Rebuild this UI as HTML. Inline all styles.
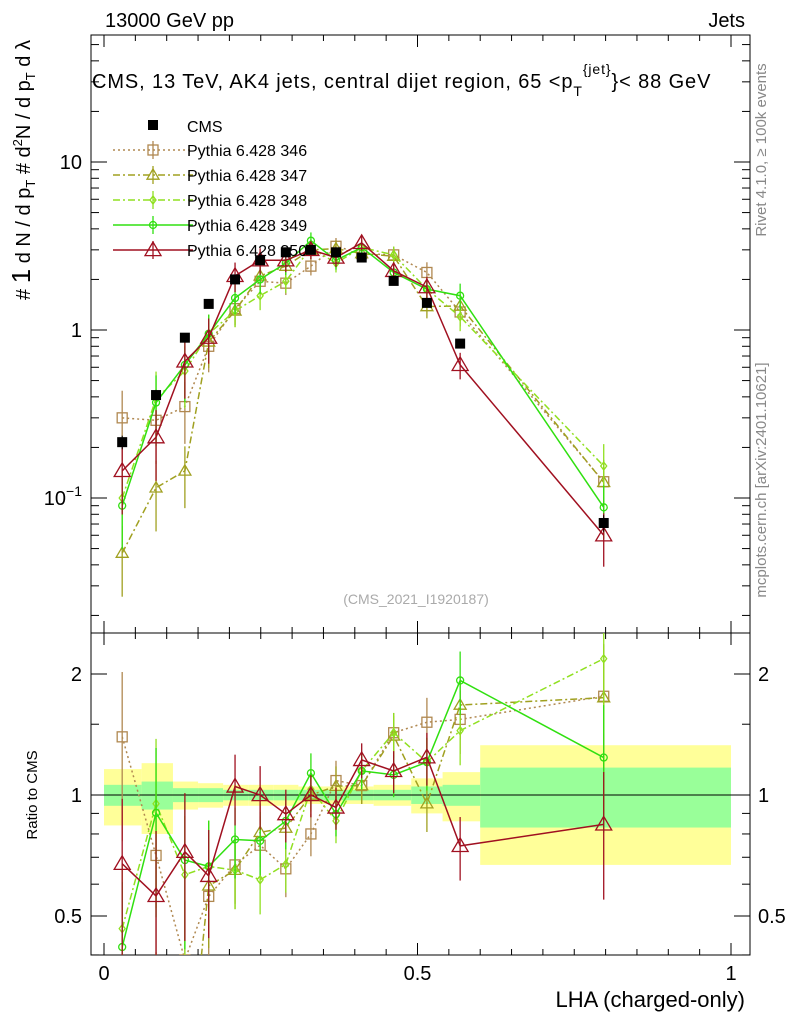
<!DOCTYPE html>
<html><head><meta charset="utf-8"><style>
html,body{margin:0;padding:0;background:#fff;overflow:hidden;width:786px;height:1024px}
svg{display:block}
svg text{font-family:"Liberation Sans",sans-serif}
</style></head><body>
<svg id="c" width="786" height="1024" xmlns="http://www.w3.org/2000/svg"></svg>
<script>
const xs=[0.029,0.083,0.129,0.167,0.209,0.249,0.290,0.330,0.370,0.411,0.462,0.515,0.568,0.797];
const edges=[0,0.06,0.11,0.15,0.19,0.23,0.27,0.31,0.35,0.39,0.43,0.49,0.54,0.6,1.0];
const cms=[0.215,0.41,0.90,1.43,2.0,2.6,2.9,3.0,2.9,2.7,1.96,1.45,0.83,0.071];
const cmsErr=[0.02,0.03,0.04,0.05,0.06,0.08,0.08,0.08,0.08,0.08,0.06,0.06,0.04,0.008];
const p346=[0.30,0.29,0.35,0.80,1.34,1.95,1.9,2.4,3.15,2.85,2.8,2.2,1.28,0.125];
const p347=[0.047,0.115,0.145,0.85,1.3,2.1,2.4,3.0,3.05,2.85,2.75,1.38,1.39,0.124];
const p348=[0.1,0.39,0.57,0.95,1.3,1.6,1.95,3.1,2.5,3.1,2.8,1.75,1.2,0.155];
const p349=[0.09,0.37,0.62,0.95,1.55,2.0,2.5,3.4,2.6,3.1,2.2,1.75,1.6,0.088];
const p350=[0.145,0.23,0.65,0.9,2.1,2.6,2.6,3.0,2.7,3.3,2.25,1.8,0.62,0.06];
const mcRelErr=[0.45,0.45,0.4,0.3,0.2,0.18,0.15,0.12,0.12,0.1,0.12,0.15,0.18,0.35];
const bandYellow=[0.16,0.2,0.08,0.07,0.06,0.06,0.06,0.05,0.05,0.05,0.06,0.1,0.14,0.33];
const bandGreen=[0.06,0.08,0.04,0.04,0.03,0.03,0.03,0.03,0.03,0.03,0.03,0.05,0.06,0.17];

const S=document.getElementById('c');const NS='http://www.w3.org/2000/svg';
function el(t,a,p){const e=document.createElementNS(NS,t);for(const k in a)e.setAttribute(k,a[k]);(p||S).appendChild(e);return e;}
const X=v=>104+627*v;
const Y=v=>330-168*Math.log10(v);
const R=v=>795-121*Math.log2(v);
const L=91,Rt=750,T=35,M=633,B=955;
const defs=el('defs',{});
const c1=el('clipPath',{id:'cm'},defs);el('rect',{x:L,y:T,width:Rt-L,height:M-T},c1);
const c2=el('clipPath',{id:'cr'},defs);el('rect',{x:L,y:M,width:Rt-L,height:B-M},c2);
const gb=el('g',{'clip-path':'url(#cr)'});

for(let i=0;i<xs.length;i++){
 const x0=X(edges[i]),x1=X(edges[i+1]);
 const r=el('rect',{x:x0,y:R(1+bandYellow[i]),width:x1-x0,height:R(1-bandYellow[i])-R(1+bandYellow[i]),fill:'#ffff99'},gb);
 
 const g=el('rect',{x:x0,y:R(1+bandGreen[i]),width:x1-x0,height:R(1-bandGreen[i])-R(1+bandGreen[i]),fill:'#99ff99'},gb);
 
}
el('line',{x1:L,x2:Rt,y1:R(1),y2:R(1),stroke:'#000','stroke-width':1});
el('rect',{x:L,y:T,width:Rt-L,height:M-T,fill:'none',stroke:'#000'});
el('rect',{x:L,y:M,width:Rt-L,height:B-M,fill:'none',stroke:'#000'});
for(let v=0;v<=1.0001;v+=0.05){const big=Math.abs(v*2-Math.round(v*2))<1e-6;const len=big?12:6;
 for(const [yb,yt] of [[M,T],[B,M]]){el('line',{x1:X(v),x2:X(v),y1:yb,y2:yb-len,stroke:'#000'});el('line',{x1:X(v),x2:X(v),y1:yt,y2:yt+len,stroke:'#000'});}}
[['0',0],['0.5',0.5],['1',1]].forEach(([t,v])=>{const e=el('text',{x:X(v),y:980,'font-size':20,'text-anchor':'middle'});e.textContent=t;});
for(let d=-2;d<=1;d++)for(let m=1;m<10;m++){const v=m*Math.pow(10,d);const y=Y(v);if(y<T||y>M)continue;const len=m==1?16:8;
 el('line',{x1:L,x2:L+len,y1:y,y2:y,stroke:'#000'});el('line',{x1:Rt,x2:Rt-len,y1:y,y2:y,stroke:'#000'});}
[['10',10],['1',1]].forEach(([t,v])=>{const e=el('text',{x:82,y:Y(v)+7,'font-size':20,'text-anchor':'end'});e.textContent=t;});
{const e=el('text',{x:82,y:Y(0.1)+7,'font-size':20,'text-anchor':'end'});e.innerHTML='10<tspan dy="-9" font-size="14">−1</tspan>';}
[0.4,0.5,0.6,0.7,0.8,0.9,1,1.5,2].forEach(v=>{const y=R(v);const len=(v==0.5||v==1||v==2)?16:8;
 el('line',{x1:L,x2:L+len,y1:y,y2:y,stroke:'#000'});el('line',{x1:Rt,x2:Rt-len,y1:y,y2:y,stroke:'#000'});});
[['2',2],['1',1],['0.5',0.5]].forEach(([t,v])=>{let e=el('text',{x:82,y:R(v)+7,'font-size':20,'text-anchor':'end'});e.textContent=t;
 e=el('text',{x:758,y:R(v)+7,'font-size':20});e.textContent=t;});
function txt(s,a,name){const e=el('text',a);e.innerHTML=s;return e;}
txt('13000 GeV pp',{x:105,y:27,'font-size':20},'energy-label');
txt('Jets',{x:745,y:27,'font-size':20,'text-anchor':'end'},'process-label');
txt('CMS, 13 TeV, AK4 jets, central dijet region, 65 &lt;p<tspan dy="8" font-size="14">T</tspan><tspan dy="-22" font-size="14">{jet}</tspan><tspan dy="14">}&lt; 88 GeV</tspan>',{x:92,y:88,'font-size':20,'letter-spacing':'0.9'},'plot-title');
txt('(CMS_2021_I1920187)',{x:416,y:604,'font-size':14,fill:'#aaa','text-anchor':'middle'},'analysis-id');
txt('LHA (charged-only)',{x:745,y:1007,'font-size':22,'text-anchor':'end'},'x-axis-title');
txt('Ratio to CMS',{x:0,y:0,'font-size':15,'text-anchor':'middle',transform:'translate(37,795) rotate(-90)'},'ratio-y-axis-title');
txt('Rivet 4.1.0, ≥ 100k events',{x:0,y:0,'font-size':15,fill:'#888','text-anchor':'middle',transform:'translate(766,150) rotate(-90)'},'rivet-label');
txt('mcplots.cern.ch [arXiv:2401.10621]',{x:0,y:0,'font-size':15,fill:'#888','text-anchor':'middle',transform:'translate(766,480) rotate(-90)'},'mcplots-label');
txt('# <tspan font-size="26">1</tspan>  d N / d p<tspan font-size="13" dy="5">T</tspan><tspan dy="-5">  # d</tspan><tspan font-size="13" dy="-8">2</tspan><tspan dy="8">N / d p</tspan><tspan font-size="13" dy="5">T</tspan><tspan dy="-5"> d λ</tspan>',{x:0,y:0,'font-size':20,'text-anchor':'middle',transform:'translate(30,170) rotate(-90)'},'y-axis-title');
const series=[
 {d:p346,c:'#b08850',dash:'2,3',m:'sq',name:'Pythia 6.428 346',k:'p346'},
 {d:p347,c:'#a0a020',dash:'7,3,2,3',m:'tri',name:'Pythia 6.428 347',k:'p347'},
 {d:p348,c:'#90e020',dash:'7,3,2,3',m:'dia',name:'Pythia 6.428 348',k:'p348'},
 {d:p349,c:'#30e010',dash:'',m:'circ',name:'Pythia 6.428 349',k:'p349'},
 {d:p350,c:'#a01020',dash:'',m:'tri',name:'Pythia 6.428 350',k:'p350'}];
function marker(g,type,x,y,c,big){
 if(type=='sq')el('rect',{x:x-5,y:y-5,width:10,height:10,fill:'none',stroke:c,'stroke-width':1.3},g);
 else if(type=='tri'){const s=big?8:6;el('polygon',{points:`${x},${y-s} ${x-s},${y+s*0.7} ${x+s},${y+s*0.7}`,fill:'none',stroke:c,'stroke-width':1.3},g);}
 else if(type=='dia')el('polygon',{points:`${x},${y-4} ${x-3},${y} ${x},${y+4} ${x+3},${y}`,fill:'none',stroke:c,'stroke-width':1.3},g);
 else el('circle',{cx:x,cy:y,r:3.5,fill:'none',stroke:c,'stroke-width':1.3},g);
}
series.forEach(s=>{
 [['cm',Y,v=>v,'main'],['cr',R,(v,i)=>v/cms[i],'ratio']].forEach(([cl,F,f,pn])=>{
  const g=el('g',{'clip-path':`url(#${cl})`});
  
  const pts=s.d.map((v,i)=>X(xs[i])+','+F(f(v,i))).join(' ');
  el('polyline',{points:pts,fill:'none',stroke:s.c,'stroke-width':1.5,'stroke-dasharray':s.dash},g);
  s.d.forEach((v,i)=>{const val=f(v,i);const e=mcRelErr[i];
   el('line',{x1:X(xs[i]),x2:X(xs[i]),y1:F(val*(1+e)),y2:F(Math.max(val*(1-e),1e-3)),stroke:s.c,'stroke-width':1.3},g);
   marker(g,s.m,X(xs[i]),F(val),s.c,s.k=='p350');});
 });
});
const gc=el('g',{'clip-path':'url(#cm)'});
cms.forEach((v,i)=>{el('line',{x1:X(xs[i]),x2:X(xs[i]),y1:Y(v+cmsErr[i]),y2:Y(v-cmsErr[i]),stroke:'#000'},gc);
 el('rect',{x:X(xs[i])-5,y:Y(v)-5,width:10,height:10,fill:'#000'},gc);});
const lg=el('g',{});
el('rect',{x:148,y:120,width:10,height:10,fill:'#000'},lg);
txt('CMS',{x:187,y:132,'font-size':16},'legend-entry-cms');
series.forEach((s,i)=>{const y=150+i*25;
 el('line',{x1:113,x2:193,y1:y,y2:y,stroke:s.c,'stroke-width':1.5,'stroke-dasharray':s.dash},lg);
 el('line',{x1:153,x2:153,y1:y-9,y2:y+9,stroke:s.c,'stroke-width':1.3},lg);
 marker(lg,s.m,153,y,s.c,s.k=='p350');
 txt(s.name,{x:187,y:y+6,'font-size':16},'legend-entry-'+s.k);});
</script>
</body></html>
